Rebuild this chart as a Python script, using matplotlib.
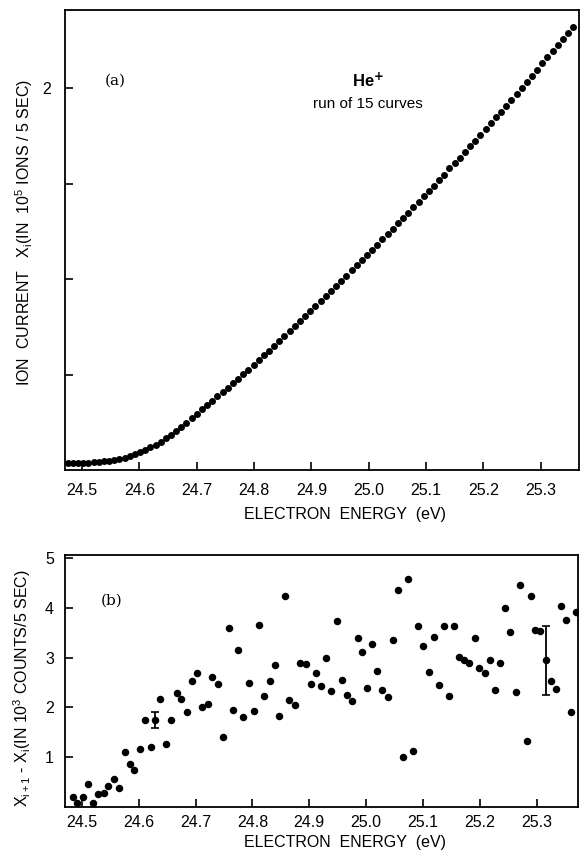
import matplotlib
matplotlib.use("Agg")
import matplotlib.pyplot as plt

plt.rcParams['font.family'] = ['Liberation Sans', 'DejaVu Sans']
plt.rcParams['mathtext.fontset'] = 'custom'
plt.rcParams['mathtext.rm'] = 'Liberation Sans'
plt.rcParams['mathtext.it'] = 'Liberation Sans'

# ---- Panel (a): ion current vs electron energy ----
energy_a = [24.475, 24.484, 24.493, 24.502, 24.511, 24.520, 24.529, 24.538, 24.547, 24.556,
            24.565, 24.574, 24.583, 24.592, 24.601, 24.610, 24.619, 24.628, 24.637, 24.646,
            24.655, 24.664, 24.673, 24.682, 24.691, 24.700, 24.709, 24.718, 24.727, 24.736,
            24.745, 24.754, 24.763, 24.772, 24.781, 24.790, 24.799, 24.808, 24.817, 24.826,
            24.835, 24.844, 24.853, 24.862, 24.871, 24.880, 24.889, 24.898, 24.907, 24.916,
            24.925, 24.934, 24.943, 24.952, 24.961, 24.970, 24.979, 24.988, 24.997, 25.006,
            25.015, 25.024, 25.033, 25.042, 25.051, 25.060, 25.069, 25.078, 25.087, 25.096,
            25.105, 25.114, 25.123, 25.132, 25.141, 25.150, 25.159, 25.168, 25.177, 25.186,
            25.195, 25.204, 25.213, 25.222, 25.231, 25.240, 25.249, 25.258, 25.267, 25.276,
            25.285, 25.294, 25.303, 25.312, 25.321, 25.330, 25.339, 25.348, 25.357]
current_a = [0.035, 0.036, 0.037, 0.037, 0.038, 0.040, 0.042, 0.045, 0.048, 0.053,
             0.058, 0.065, 0.073, 0.082, 0.093, 0.105, 0.118, 0.133, 0.149, 0.166,
             0.184, 0.204, 0.225, 0.247, 0.270, 0.294, 0.317, 0.340, 0.363, 0.386,
             0.409, 0.432, 0.456, 0.479, 0.502, 0.526, 0.550, 0.575, 0.600, 0.625,
             0.650, 0.675, 0.701, 0.727, 0.753, 0.779, 0.805, 0.831, 0.857, 0.884,
             0.911, 0.938, 0.965, 0.992, 1.019, 1.046, 1.073, 1.100, 1.127, 1.154,
             1.181, 1.209, 1.237, 1.265, 1.293, 1.321, 1.349, 1.377, 1.405, 1.433,
             1.461, 1.490, 1.519, 1.548, 1.580, 1.606, 1.636, 1.666, 1.696, 1.726,
             1.756, 1.786, 1.816, 1.847, 1.878, 1.909, 1.940, 1.971, 2.002, 2.034,
             2.066, 2.098, 2.130, 2.162, 2.194, 2.226, 2.258, 2.290, 2.320]

# ---- Panel (b): successive differences ----
energy_b = [24.484, 24.492, 24.501, 24.511, 24.520, 24.528, 24.538, 24.546, 24.556, 24.565,
            24.575, 24.585, 24.592, 24.602, 24.611, 24.621, 24.629, 24.638, 24.647, 24.656,
            24.667, 24.675, 24.684, 24.693, 24.702, 24.711, 24.721, 24.729, 24.739, 24.748,
            24.758, 24.766, 24.775, 24.784, 24.794, 24.802, 24.811, 24.820, 24.830, 24.839,
            24.847, 24.857, 24.865, 24.874, 24.883, 24.894, 24.903, 24.911, 24.921, 24.930,
            24.938, 24.948, 24.957, 24.966, 24.975, 24.985, 24.992, 25.002, 25.011, 25.019,
            25.028, 25.038, 25.048, 25.056, 25.065, 25.074, 25.083, 25.092, 25.101, 25.110,
            25.119, 25.128, 25.137, 25.146, 25.154, 25.164, 25.173, 25.182, 25.192, 25.199,
            25.209, 25.218, 25.227, 25.235, 25.244, 25.254, 25.263, 25.271, 25.283, 25.290,
            25.298, 25.306, 25.316, 25.326, 25.334, 25.343, 25.352, 25.361, 25.369]
diff_b = [0.195, 0.087, 0.195, 0.457, 0.074, 0.260, 0.275, 0.430, 0.557, 0.390,
          1.100, 0.865, 0.740, 1.170, 1.750, 1.210, 1.750, 2.160, 1.260, 1.740,
          2.290, 2.160, 1.900, 2.535, 2.700, 2.000, 2.070, 2.620, 2.470, 1.415,
          3.595, 1.940, 3.145, 1.805, 2.495, 1.925, 3.660, 2.220, 2.530, 2.850,
          1.830, 4.245, 2.140, 2.050, 2.890, 2.870, 2.475, 2.690, 2.435, 3.000,
          2.320, 3.730, 2.555, 2.240, 2.130, 3.390, 3.110, 2.380, 3.270, 2.740,
          2.350, 2.210, 3.355, 4.360, 1.006, 4.570, 1.130, 3.630, 3.225, 2.715,
          3.410, 2.450, 3.635, 2.230, 3.630, 3.010, 2.960, 2.890, 3.390, 2.800,
          2.690, 2.960, 2.350, 2.890, 4.000, 3.515, 2.300, 4.450, 1.330, 4.245,
          3.560, 3.530, 2.960, 2.540, 2.370, 4.040, 3.760, 1.905, 3.920]

errbar_energy = [24.629, 25.316]
errbar_value = [1.745, 2.945]
errbar_size = [0.16, 0.69]

xticks = [24.5, 24.6, 24.7, 24.8, 24.9, 25.0, 25.1, 25.2, 25.3]
xticklabels = ['24.5', '24.6', '24.7', '24.8', '24.9', '25.0', '25.1', '25.2', '25.3']
yticks_a = [0.5, 1.0, 1.5, 2.0]
yticklabels_a = ['', '', '', '2']
yticks_b = [1, 2, 3, 4, 5]
yticklabels_b = ['1', '2', '3', '4', '5']

W, H = 580, 857
fig = plt.figure(figsize=(W / 100, H / 100), dpi=100)

def frac(x0, y0, x1, y1):
    return [x0 / W, 1 - y1 / H, (x1 - x0) / W, (y1 - y0) / H]

axa = fig.add_axes(frac(65, 10, 579, 470))
axb = fig.add_axes(frac(65, 555, 578, 807))

for ax in (axa, axb):
    for s in ax.spines.values():
        s.set_linewidth(1.3)
        s.set_color('black')
    ax.tick_params(direction='in', length=6, width=1.2, labelsize=11.5, colors='black')
    ax.set_xticks(xticks)
    ax.set_xticklabels(xticklabels)

axa.plot(energy_a, current_a, 'o', color='black', markersize=5.0, markeredgewidth=0)
axa.set_xlim(24.470, 25.367)
axa.set_ylim(0, 2.41)
axa.set_yticks(yticks_a)
axa.set_yticklabels(yticklabels_a)
axa.tick_params(axis='x', pad=9)
axa.tick_params(axis='y', pad=10)

axb.plot(energy_b, diff_b, 'o', color='black', markersize=5.4, markeredgewidth=0)
axb.errorbar(errbar_energy, errbar_value, yerr=errbar_size, fmt='none',
             ecolor='black', elinewidth=1.3, capsize=3, capthick=1.2)
axb.set_xlim(24.470, 25.373)
axb.set_ylim(0, 5.06)
axb.set_yticks(yticks_b)
axb.set_yticklabels(yticklabels_b)
axb.tick_params(axis='x', pad=6)
axb.tick_params(axis='y', pad=8)

# Texts
fig.text(345 / W, 1 - 515 / H, 'ELECTRON  ENERGY  (eV)', ha='center', va='center', fontsize=11.5)
fig.text(345 / W, 1 - 842 / H, 'ELECTRON  ENERGY  (eV)', ha='center', va='center', fontsize=11.5)
fig.text(24 / W, 1 - 232 / H,
         r'ION  CURRENT   X$_\mathregular{i}$(IN  10$^\mathregular{5}$ IONS / 5 SEC)',
         rotation=90, ha='center', va='center', fontsize=11.5)
fig.text(22 / W, 1 - 688 / H,
         r'X$_\mathregular{i+1}$ - X$_\mathregular{i}$(IN 10$^\mathregular{3}$ COUNTS/5 SEC)',
         rotation=90, ha='center', va='center', fontsize=11.5)

fig.text(115 / W, 1 - 81 / H, '(a)', ha='center', va='center', fontsize=11, family='DejaVu Serif')
fig.text(112 / W, 1 - 601 / H, '(b)', ha='center', va='center', fontsize=11, family='DejaVu Serif')
fig.text(368 / W, 1 - 80 / H, r'He$^{\mathbf{+}}$', ha='center', va='center', fontsize=12, fontweight='bold')
fig.text(368 / W, 1 - 104 / H, 'run of 15 curves', ha='center', va='center', fontsize=11)

fig.savefig('out.png', dpi=100)
